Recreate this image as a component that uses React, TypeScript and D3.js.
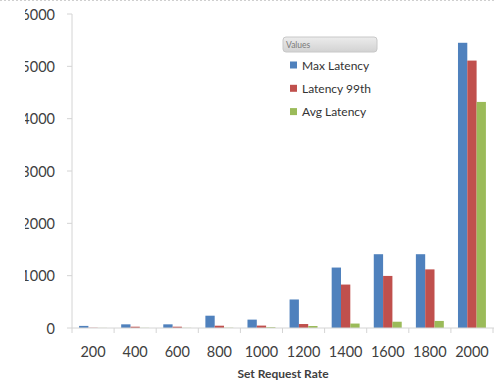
import React from "react";
import * as d3 from "d3";

// Set request rates (x categories) and latency series
const categories = ["200", "400", "600", "800", "1000", "1200", "1400", "1600", "1800", "2000"];
const seriesNames = ["Max Latency", "Latency 99th", "Avg Latency"];
const maxLatency = [40, 70, 70, 235, 160, 545, 1155, 1410, 1410, 5450];
const latency99th = [5, 25, 25, 44, 46, 76, 830, 995, 1120, 5110];
const avgLatency = [2, 3, 3, 5, 15, 38, 85, 120, 135, 4320];
const yTicks = [0, 1000, 2000, 3000, 4000, 5000, 6000];
const colors = ["#4F81BD", "#C0504D", "#9BBB59"];

const W = 494;
const H = 380;
const left = 72;
const right = 493;
const top = 14;
const bottom = 328;
const font = "Lato, 'Open Sans', sans-serif";

export default function App() {
  const values = [maxLatency, latency99th, avgLatency];
  const x0 = d3.scaleBand<string>().domain(categories).range([left, right]).padding(0);
  const x1 = d3
    .scaleBand<string>()
    .domain(seriesNames)
    .range([0, x0.bandwidth()])
    .paddingInner(0)
    .paddingOuter(0.76);
  const y = d3.scaleLinear().domain([0, 6000]).range([bottom, top]);

  const axisColor = "#d4d4d4";

  return (
    <svg
      width={W}
      height={H}
      style={{ position: "absolute", left: 0, top: 0, background: "#fff" }}
      fontFamily={font}
    >
      <defs>
        <clipPath id="ylabels">
          <rect x={25} y={0} width={60} height={H} />
        </clipPath>
        <linearGradient id="hdr" x1="0" y1="0" x2="0" y2="1">
          <stop offset="0" stopColor="#ececec" />
          <stop offset="1" stopColor="#d2d2d2" />
        </linearGradient>
      </defs>
      <rect x={0} y={0} width={W} height={H} fill="#fff" />
      <line x1={0} x2={W} y1={0.5} y2={0.5} stroke="#cfcfcf" strokeDasharray="2 2" />

      {/* bars */}
      {categories.map((c, i) => (
        <g key={c} transform={`translate(${x0(c)},0)`}>
          {seriesNames.map((s, k) => {
            const v = values[k][i];
            return (
              <rect
                key={s}
                x={x1(s)}
                y={y(v)}
                width={x1.bandwidth()}
                height={bottom - y(v)}
                fill={colors[k]}
              />
            );
          })}
        </g>
      ))}

      {/* y axis */}
      <line x1={left} x2={left} y1={top} y2={bottom} stroke={axisColor} />
      <g clipPath="url(#ylabels)">
        {yTicks.map((t) => (
          <text
            key={t}
            x={55}
            y={y(t)}
            textAnchor="end"
            dominantBaseline="central"
            fontSize={14.5}
            fill="#404040"
          >
            {t}
          </text>
        ))}
      </g>
      {yTicks.map((t) => (
        <line key={t} x1={left - 5} x2={left} y1={y(t)} y2={y(t)} stroke={axisColor} />
      ))}

      {/* x axis */}
      <line x1={left} x2={W} y1={bottom} y2={bottom} stroke={axisColor} />
      {categories.map((c) => (
        <line
          key={c}
          x1={x0(c)!}
          x2={x0(c)!}
          y1={bottom}
          y2={bottom + 5}
          stroke={axisColor}
        />
      ))}
      <line x1={right} x2={right} y1={bottom} y2={bottom + 5} stroke={axisColor} />
      {categories.map((c) => (
        <text
          key={c}
          x={x0(c)! + x0.bandwidth() / 2}
          y={351}
          textAnchor="middle"
          dominantBaseline="central"
          fontSize={14.5}
          fill="#404040"
        >
          {c}
        </text>
      ))}
      <text
        x={283}
        y={373}
        textAnchor="middle"
        dominantBaseline="central"
        fontSize={12}
        fontWeight="bold"
        fill="#404040"
      >
        Set Request Rate
      </text>

      {/* legend */}
      <rect x={283} y={37} width={94} height={15} rx={3} fill="url(#hdr)" stroke="#c8c8c8" />
      <text x={286} y={44.5} dominantBaseline="central" fontSize={8.5} fill="#7a7a7a">
        Values
      </text>
      {seriesNames.map((s, k) => (
        <g key={s} transform={`translate(290,${65 + k * 23.3})`}>
          <rect x={0} y={-3.5} width={7} height={7} fill={colors[k]} />
          <text x={12} y={0} dominantBaseline="central" fontSize={12} fill="#333">
            {s}
          </text>
        </g>
      ))}
    </svg>
  );
}
